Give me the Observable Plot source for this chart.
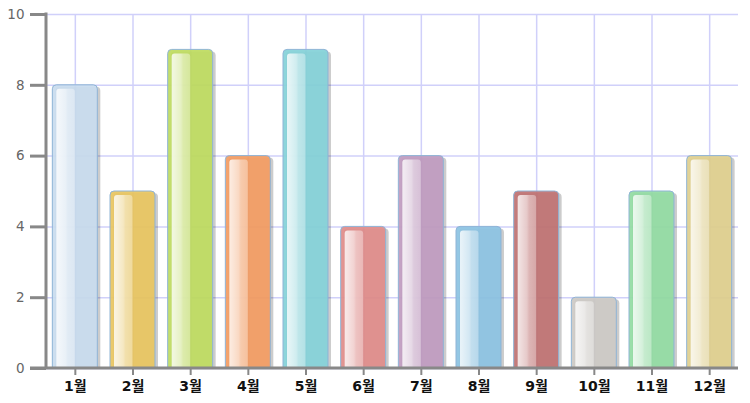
<!DOCTYPE html>
<html><head><meta charset="utf-8">
<script src="https://cdn.jsdelivr.net/npm/d3@7"></script>
<script src="https://cdn.jsdelivr.net/npm/@observablehq/plot@0.6"></script>
<style>body{margin:0;background:#fff}</style>
</head><body><div id="chart"></div>
<script>
const months = ["1월","2월","3월","4월","5월","6월","7월","8월","9월","10월","11월","12월"];
const values = [8,5,9,6,9,4,6,4,5,2,5,6];
const colors = ["#c8dcee","#e8c560","#bedc60","#f39c62","#84d2d8","#e08c8a","#bf9bc0","#8cc3e2","#c07272","#ccc9c5","#92dba2","#e0d08e"];
const yTicks = [0,2,4,6,8,10];

const data = months.map((m,i)=>({month:m,value:values[i],color:colors[i]}));
const W=750,H=403,mL=46,mR=12,mT=14,mB=35,pad=0.22;
const bw = (W-mL-mR)/months.length*(1-pad);
const font = '"DejaVu Sans","Noto Sans CJK KR",sans-serif';
const plot = Plot.plot({
  width:W,height:H,marginLeft:mL,marginRight:mR,marginTop:mT,marginBottom:mB,
  style:{fontFamily:font,background:"#fff",overflow:"visible",fontSize:"14px"},
  x:{type:"band",domain:months,paddingInner:pad,paddingOuter:pad/2,align:0.5,round:false},
  y:{domain:[0,10]},
  marks:[
    Plot.gridY(yTicks,{stroke:"#d0d0fa",strokeOpacity:1,strokeWidth:1.5}),
    Plot.gridX(months,{stroke:"#d0d0fa",strokeOpacity:1,strokeWidth:1.5}),
    Plot.barY(data,{x:"month",y:"value",fill:"#000",fillOpacity:0.2,dx:3,dy:2,rx:4,insetBottom:-6,clip:true}),
    Plot.barY(data,{x:"month",y:"value",fill:"color",fillOpacity:0.93,stroke:"#8fb4d6",strokeWidth:1,rx:4,insetBottom:-6,clip:true}),
    Plot.barY(data,{x:"month",y:"value",fill:"url(#gloss)",rx:3,insetLeft:4,insetRight:bw/2,insetTop:4,insetBottom:-6,clip:true}),
    Plot.axisY(yTicks,{tickSize:16,tickPadding:6,stroke:"#888",strokeWidth:3,fontSize:13.5,fill:"#666",label:null}),
    Plot.axisX({tickSize:7,tickPadding:6,stroke:"#888",strokeWidth:2,fontSize:14,fontWeight:"bold",fill:"#111",label:null})
  ]
});
const svg = d3.select(plot);
const defs = svg.insert("defs",":first-child");
const g = defs.append("linearGradient").attr("id","gloss").attr("x1",0).attr("x2",1).attr("y1",0).attr("y2",0);
[[0,0.8],[0.15,0.75],[0.5,0.6],[0.62,0.45],[1,0.35]].forEach(([o,a])=>g.append("stop").attr("offset",o).attr("stop-color","#fff").attr("stop-opacity",a));
const ys = plot.scale("y");
const y0 = ys.apply(0), y10 = ys.apply(10);
svg.append("line").attr("x1",30).attr("x2",W-mR).attr("y1",y0).attr("y2",y0).attr("stroke","#888").attr("stroke-width",3);
svg.append("line").attr("x1",mL).attr("x2",mL).attr("y1",y10-1.5).attr("y2",y0).attr("stroke","#888").attr("stroke-width",3);
document.getElementById("chart").appendChild(plot);
</script>
</body></html>
